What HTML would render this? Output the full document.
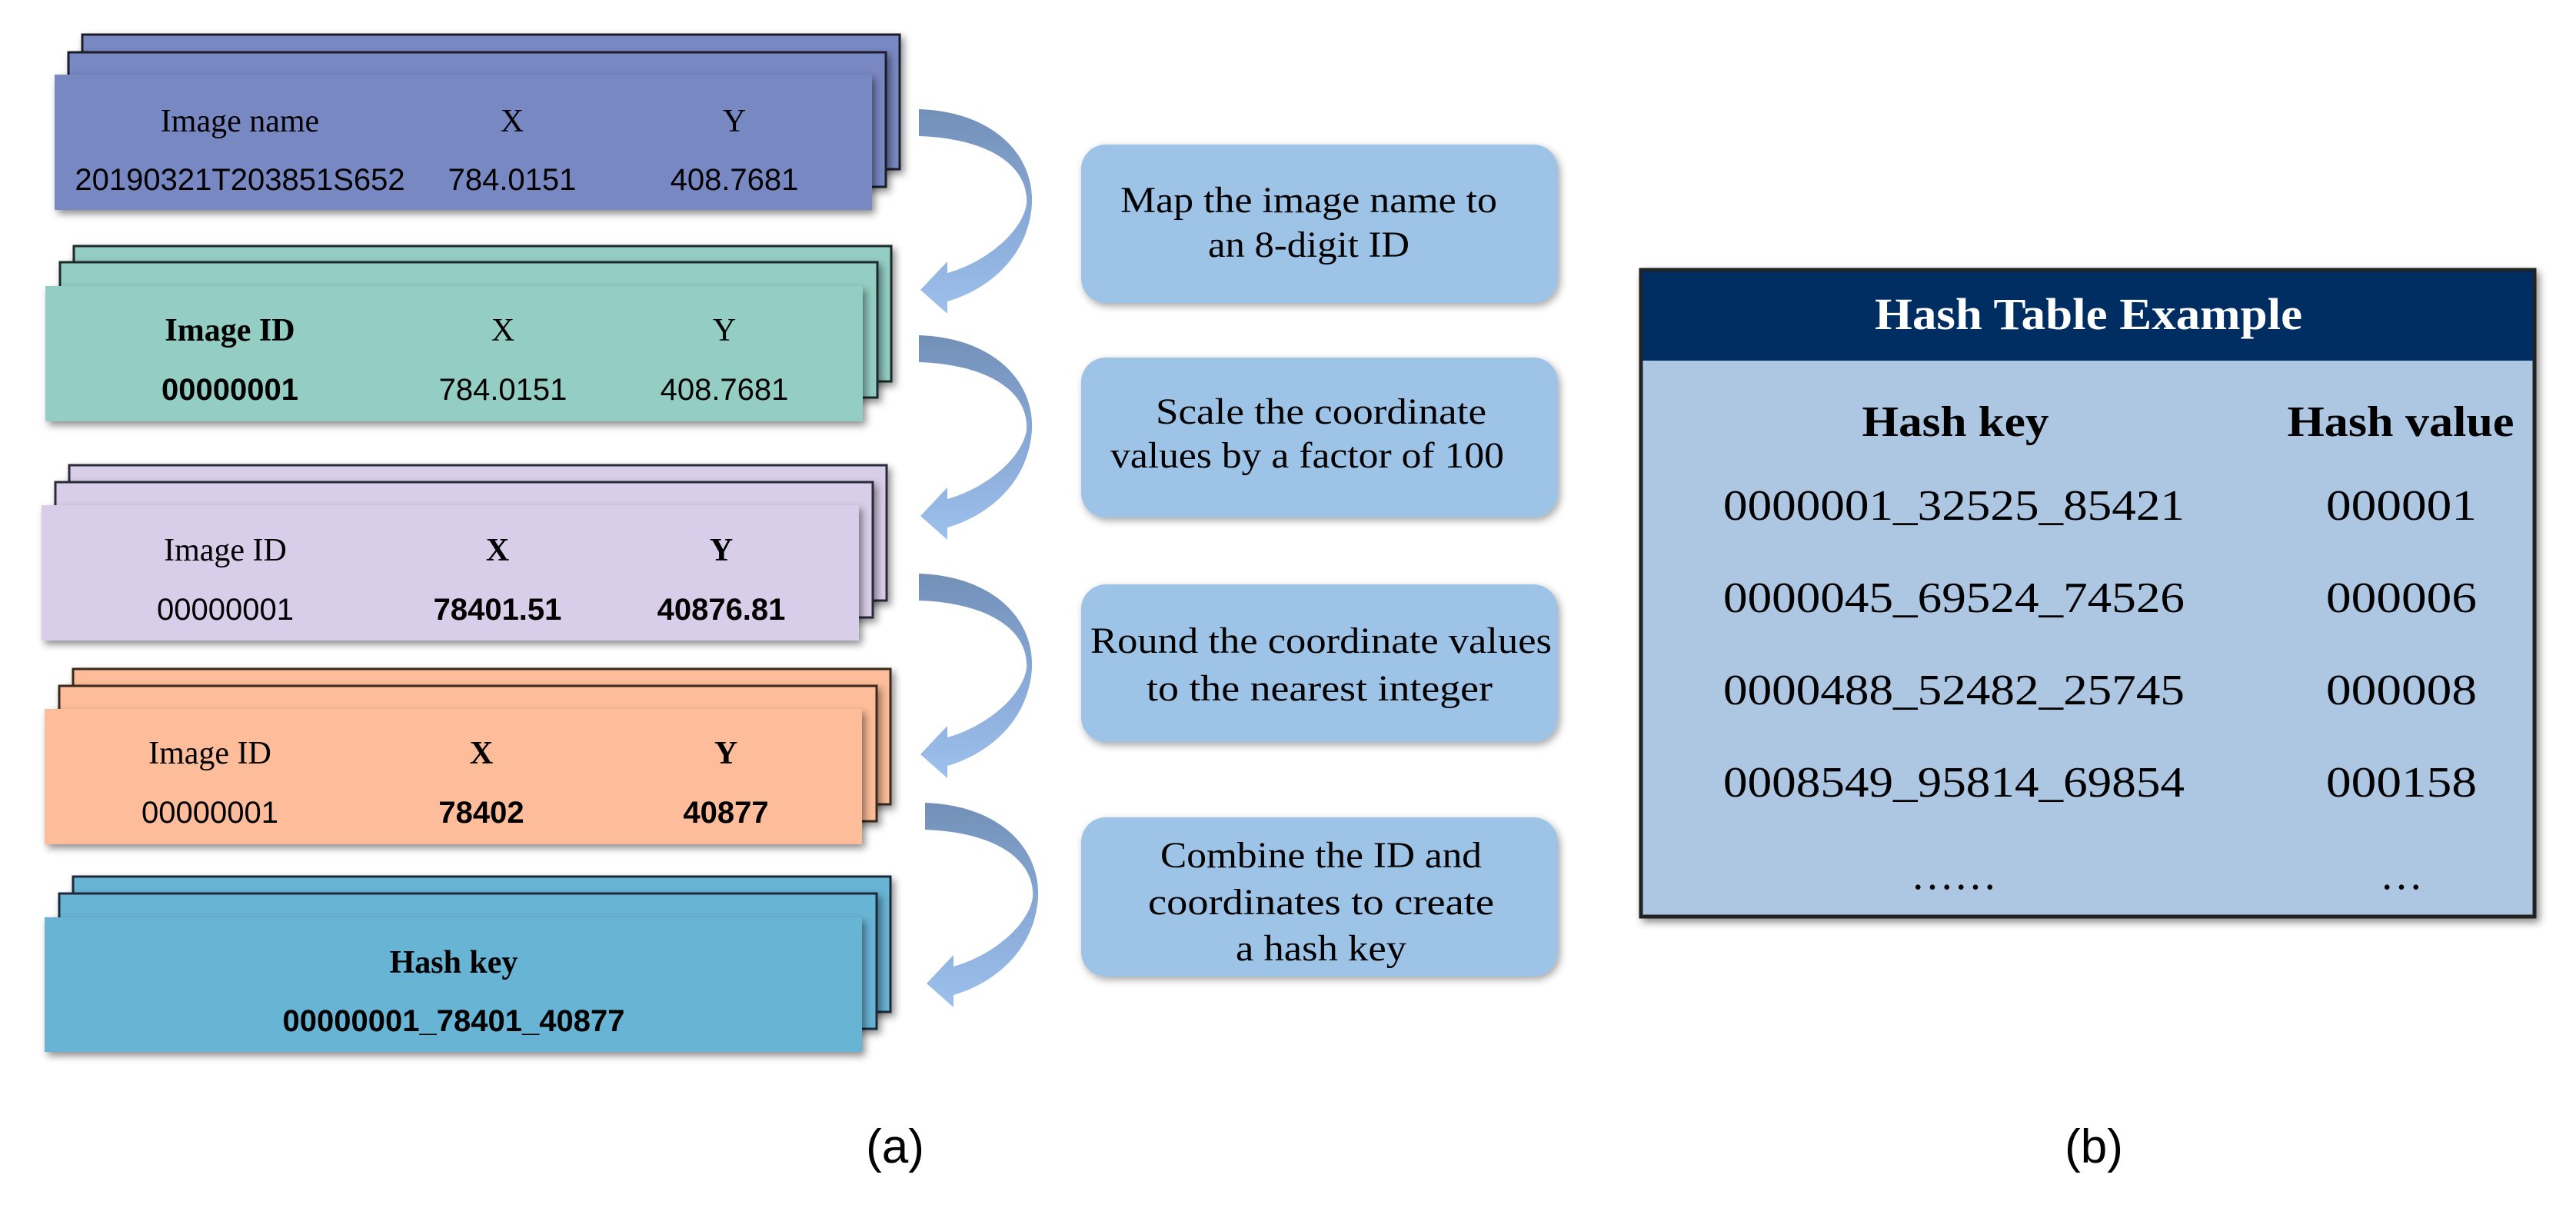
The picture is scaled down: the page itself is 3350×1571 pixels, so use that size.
<!DOCTYPE html>
<html><head><meta charset="utf-8"><style>html,body{margin:0;padding:0;background:#fff}svg{display:block}</style></head>
<body>
<svg width="3350" height="1571" viewBox="0 0 3350 1571" xmlns="http://www.w3.org/2000/svg">
<defs>
<filter id="sh" x="-10%" y="-10%" width="130%" height="140%"><feDropShadow dx="4" dy="5" stdDeviation="5" flood-color="#000" flood-opacity="0.45"/></filter>
<filter id="sh2" x="-10%" y="-10%" width="130%" height="130%"><feDropShadow dx="3" dy="4" stdDeviation="5" flood-color="#000" flood-opacity="0.35"/></filter>
<linearGradient id="ag" x1="0" y1="0" x2="0" y2="1"><stop offset="0" stop-color="#7290B7"/><stop offset="0.5" stop-color="#88A8D6"/><stop offset="1" stop-color="#9DC0EC"/></linearGradient>
</defs>

<g font-family="Liberation Serif, serif" fill="#000">
<g>
<rect x="107" y="45" width="1063" height="175" fill="#7888C2" stroke="#1a1a2a" stroke-width="3" filter="url(#sh)"/>
<rect x="89" y="68" width="1063" height="175" fill="#7888C2" stroke="#1a1a2a" stroke-width="3" filter="url(#sh)"/>
<rect x="71" y="97" width="1063" height="176" fill="#7888C2" filter="url(#sh)"/>
<g font-size="42" text-anchor="middle">
<text x="312" y="171">Image  name</text><text x="666" y="171">X</text><text x="955" y="171">Y</text>
<g font-family="Liberation Sans, sans-serif" font-size="40"><text x="312" y="247">20190321T203851S652</text><text x="666" y="247">784.0151</text><text x="955" y="247">408.7681</text></g>
</g></g>

<g>
<rect x="96" y="320" width="1063" height="176" fill="#93CDC3" stroke="#1a2a2a" stroke-width="3" filter="url(#sh)"/>
<rect x="78" y="341" width="1063" height="176" fill="#93CDC3" stroke="#1a2a2a" stroke-width="3" filter="url(#sh)"/>
<rect x="59" y="372" width="1063" height="176" fill="#93CDC3" filter="url(#sh)"/>
<g font-size="42" text-anchor="middle">
<text x="299" y="443" font-weight="bold">Image  ID</text><text x="654" y="443">X</text><text x="942" y="443">Y</text>
<g font-family="Liberation Sans, sans-serif" font-size="40"><text x="299" y="520" font-weight="bold">00000001</text><text x="654" y="520">784.0151</text><text x="942" y="520">408.7681</text></g>
</g></g>

<g>
<rect x="90" y="605" width="1063" height="176" fill="#D9CEE9" stroke="#2a2a3a" stroke-width="3" filter="url(#sh)"/>
<rect x="72" y="627" width="1063" height="176" fill="#D9CEE9" stroke="#2a2a3a" stroke-width="3" filter="url(#sh)"/>
<rect x="54" y="657" width="1063" height="176" fill="#D9CEE9" filter="url(#sh)"/>
<g font-size="42" text-anchor="middle">
<text x="293" y="729">Image  ID</text><text x="647" y="729" font-weight="bold">X</text><text x="938" y="729" font-weight="bold">Y</text>
<g font-family="Liberation Sans, sans-serif" font-size="40"><text x="293" y="806">00000001</text><text x="647" y="806" font-weight="bold">78401.51</text><text x="938" y="806" font-weight="bold">40876.81</text></g>
</g></g>

<g>
<rect x="95" y="870" width="1063" height="176" fill="#FDBD9A" stroke="#3a2a1a" stroke-width="3" filter="url(#sh)"/>
<rect x="77" y="892" width="1063" height="176" fill="#FDBD9A" stroke="#3a2a1a" stroke-width="3" filter="url(#sh)"/>
<rect x="58" y="922" width="1063" height="176" fill="#FDBD9A" filter="url(#sh)"/>
<g font-size="42" text-anchor="middle">
<text x="273" y="993">Image  ID</text><text x="626" y="993" font-weight="bold">X</text><text x="944" y="993" font-weight="bold">Y</text>
<g font-family="Liberation Sans, sans-serif" font-size="40"><text x="273" y="1070">00000001</text><text x="626" y="1070" font-weight="bold">78402</text><text x="944" y="1070" font-weight="bold">40877</text></g>
</g></g>

<g>
<rect x="95" y="1140" width="1063" height="176" fill="#68B4D4" stroke="#1a2a3a" stroke-width="3" filter="url(#sh)"/>
<rect x="77" y="1162" width="1063" height="176" fill="#68B4D4" stroke="#1a2a3a" stroke-width="3" filter="url(#sh)"/>
<rect x="58" y="1193" width="1063" height="175" fill="#68B4D4" filter="url(#sh)"/>
<g font-size="42" text-anchor="middle">
<text x="590" y="1265" font-weight="bold">Hash key</text>
<text x="590" y="1341" font-family="Liberation Sans, sans-serif" font-size="40" font-weight="bold">00000001_78401_40877</text>
</g></g>

<g fill="url(#ag)">
<path d="M1195,142 C1290,145 1345,200 1342,265 C1338,330 1290,375 1232,392 L1232,408 L1197,377 L1232,340 L1232,355 C1285,340 1330,300 1335,265 C1338,215 1285,180 1195,177 Z"/>
<path transform="translate(0,294)" d="M1195,142 C1290,145 1345,200 1342,265 C1338,330 1290,375 1232,392 L1232,408 L1197,377 L1232,340 L1232,355 C1285,340 1330,300 1335,265 C1338,215 1285,180 1195,177 Z"/>
<path transform="translate(0,604)" d="M1195,142 C1290,145 1345,200 1342,265 C1338,330 1290,375 1232,392 L1232,408 L1197,377 L1232,340 L1232,355 C1285,340 1330,300 1335,265 C1338,215 1285,180 1195,177 Z"/>
<path transform="translate(8,902)" d="M1195,142 C1290,145 1345,200 1342,265 C1338,330 1290,375 1232,392 L1232,408 L1197,377 L1232,340 L1232,355 C1285,340 1330,300 1335,265 C1338,215 1285,180 1195,177 Z"/>
</g>

<g fill="#9DC3E6" filter="url(#sh2)">
<rect x="1406" y="188" width="620" height="206" rx="32"/>
<rect x="1406" y="465" width="620" height="208" rx="32"/>
<rect x="1406" y="760" width="620" height="205" rx="32"/>
<rect x="1406" y="1063" width="620" height="207" rx="32"/>
</g>
<g font-size="48" text-anchor="middle">
<text x="1702" y="276" textLength="490" lengthAdjust="spacingAndGlyphs">Map the image name to</text>
<text x="1702" y="334" textLength="262" lengthAdjust="spacingAndGlyphs">an 8-digit ID</text>
<text x="1718" y="551" textLength="430" lengthAdjust="spacingAndGlyphs">Scale the coordinate</text>
<text x="1700" y="608" textLength="512" lengthAdjust="spacingAndGlyphs">values by a factor of 100</text>
<text x="1718" y="849" textLength="600" lengthAdjust="spacingAndGlyphs">Round the coordinate values</text>
<text x="1716" y="911" textLength="450" lengthAdjust="spacingAndGlyphs">to the nearest integer</text>
<text x="1718" y="1128" textLength="418" lengthAdjust="spacingAndGlyphs">Combine the ID and</text>
<text x="1718" y="1189" textLength="450" lengthAdjust="spacingAndGlyphs">coordinates to create</text>
<text x="1718" y="1249" textLength="222" lengthAdjust="spacingAndGlyphs">a hash key</text>
</g>

<rect x="2134" y="351" width="1162" height="841" fill="#ADC6E2" stroke="#222" stroke-width="5" filter="url(#sh)"/>
<rect x="2136" y="353" width="1158" height="116" fill="#002D62"/>
<text x="2716" y="428" font-size="58" font-weight="bold" fill="#fff" text-anchor="middle" textLength="556" lengthAdjust="spacingAndGlyphs">Hash Table Example</text>
<g text-anchor="middle">
<text x="2543" y="567" font-size="56" font-weight="bold" textLength="243" lengthAdjust="spacingAndGlyphs">Hash key</text>
<text x="3122" y="567" font-size="56" font-weight="bold" textLength="295" lengthAdjust="spacingAndGlyphs">Hash value</text>
<g font-size="56">
<text x="2541" y="676" textLength="600" lengthAdjust="spacingAndGlyphs">0000001_32525_85421</text>
<text x="2541" y="796" textLength="600" lengthAdjust="spacingAndGlyphs">0000045_69524_74526</text>
<text x="2541" y="916" textLength="600" lengthAdjust="spacingAndGlyphs">0000488_52482_25745</text>
<text x="2541" y="1036" textLength="600" lengthAdjust="spacingAndGlyphs">0008549_95814_69854</text>
<text x="3123" y="676" textLength="196" lengthAdjust="spacingAndGlyphs">000001</text>
<text x="3123" y="796" textLength="196" lengthAdjust="spacingAndGlyphs">000006</text>
<text x="3123" y="916" textLength="196" lengthAdjust="spacingAndGlyphs">000008</text>
<text x="3123" y="1036" textLength="196" lengthAdjust="spacingAndGlyphs">000158</text>
<text x="2541" y="1156">……</text>
<text x="3123" y="1156">…</text>
</g></g>

<g font-family="Liberation Sans, sans-serif" font-size="62" text-anchor="middle">
<text x="1164" y="1512">(a)</text>
<text x="2723" y="1512">(b)</text>
</g>
</g>
</svg>
</body></html>
